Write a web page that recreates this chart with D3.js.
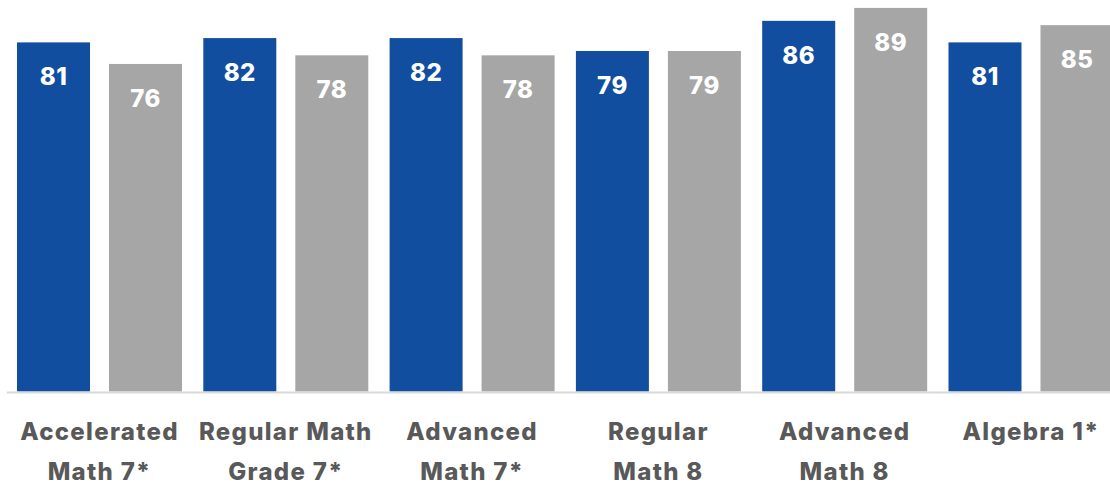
<!DOCTYPE html>
<html>
<head>
<meta charset="utf-8">
<script src="https://cdn.jsdelivr.net/npm/d3@7"></script>
<style>
  html, body { margin: 0; padding: 0; background: #fff; }
  svg { display: block; }
  text { font-family: "Inter", "Open Sans", sans-serif; font-weight: 800; }
</style>
</head>
<body>
<svg id="chart" width="1110" height="485"></svg>
<script>
// Course names (split into display lines)
const categories = [
  ["Accelerated", "Math 7*"],
  ["Regular Math", "Grade 7*"],
  ["Advanced", "Math 7*"],
  ["Regular", "Math 8"],
  ["Advanced", "Math 8"],
  ["Algebra 1*"]
];
const seriesNames = ["A", "B"];
const seriesA = [81, 82, 82, 79, 86, 81];
const seriesB = [76, 78, 78, 79, 89, 85];
const colors = { A: "#114E9F", B: "#A6A6A6" };

const baseY = 391.5;
const svg = d3.select("#chart");

const keys = categories.map(c => c.join(" "));
const x0 = d3.scaleBand().domain(keys).range([6.35, 1124.15])
  .paddingInner(0.1143).paddingOuter(0.0572);
const x1 = d3.scaleBand().domain(seriesNames).range([0, x0.bandwidth()])
  .paddingInner(0.2065).paddingOuter(0);
const y = d3.scaleLinear().domain([0, 100]).range([baseY, baseY - 431]);

const rows = keys.map((k, i) => ({ key: k, lines: categories[i], A: seriesA[i], B: seriesB[i] }));

const groups = svg.append("g").selectAll("g").data(rows).join("g")
  .attr("transform", d => `translate(${x0(d.key)},0)`);

const bars = groups.selectAll("g.bar")
  .data(d => seriesNames.map(s => ({ s, v: d[s] })))
  .join("g").attr("class", "bar");

bars.append("rect")
  .attr("x", d => x1(d.s))
  .attr("y", d => y(d.v))
  .attr("width", x1.bandwidth())
  .attr("height", d => baseY - y(d.v))
  .attr("fill", d => colors[d.s]);

bars.append("text")
  .attr("x", d => x1(d.s) + x1.bandwidth() / 2)
  .attr("y", d => y(d.v) + 43)
  .attr("text-anchor", "middle")
  .attr("fill", "#fff")
  .attr("font-size", 24)
  .attr("letter-spacing", 0.5)
  .text(d => d.v);

// Baseline axis
const xAxis = d3.axisBottom(x0).tickSize(0).tickFormat("");
const axisG = svg.append("g").attr("transform", `translate(0,${baseY + 0.5})`).call(xAxis);
axisG.select(".domain").attr("stroke", "#D9D9D9").attr("stroke-width", 2);

// Category labels
const labels = svg.append("g").selectAll("text").data(rows).join("text")
  .attr("text-anchor", "middle")
  .attr("fill", "#595959")
  .attr("font-size", 24)
  .attr("letter-spacing", 1.3)
  .attr("x", d => x0(d.key) + x0.bandwidth() / 2)
  .attr("y", 440);
labels.selectAll("tspan").data(d => d.lines.map((t, i) => ({ t, i, cx: x0(d.key) + x0.bandwidth() / 2 })))
  .join("tspan")
  .attr("x", d => d.cx)
  .attr("y", d => 440 + d.i * 40)
  .text(d => d.t);
</script>
</body>
</html>
